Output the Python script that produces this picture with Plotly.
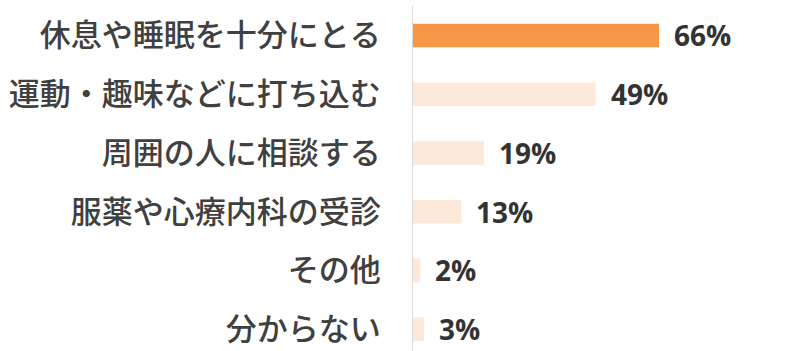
import plotly.graph_objects as go

categories = ["休息や睡眠を十分にとる", "運動・趣味などに打ち込む", "周囲の人に相談する",
              "服薬や心療内科の受診", "その他", "分からない"]
values = [66, 49, 19, 13, 2, 3]
colors = ["#F79646", "#FDE9D9", "#FDE9D9", "#FDE9D9", "#FDE9D9", "#FDE9D9"]

ypos = list(range(len(categories)))

fig = go.Figure()
fig.add_trace(go.Bar(
    x=values, y=ypos, orientation="h",
    marker=dict(color=colors, line=dict(width=0)),
    width=0.4,
    hoverinfo="skip",
))

for v, y in zip(values, ypos):
    fig.add_annotation(
        x=v, y=y, xref="x", yref="y",
        text=f"<b>{v}%</b>", showarrow=False,
        xanchor="left", yanchor="middle", xshift=13,
        font=dict(family="Open Sans, Lato, sans-serif", size=28, color="#333333"),
    )

fig.update_layout(
    width=800, height=351,
    margin=dict(l=413, r=0, t=6, b=0),
    paper_bgcolor="white", plot_bgcolor="white",
    showlegend=False,
    bargap=0.6,
)
fig.update_xaxes(range=[0, 103.8], visible=False, showgrid=False, zeroline=False)
fig.update_yaxes(
    tickmode="array", tickvals=ypos, ticktext=categories,
    range=[5.37, -0.5],
    showline=True, linecolor="#D9D9D9", linewidth=1,
    showgrid=False, zeroline=False, ticks="",
    ticklabelstandoff=25,
    tickfont=dict(family="Noto Sans CJK JP", size=31, color="#404040", weight=500),
)

fig.write_html("out.html")
